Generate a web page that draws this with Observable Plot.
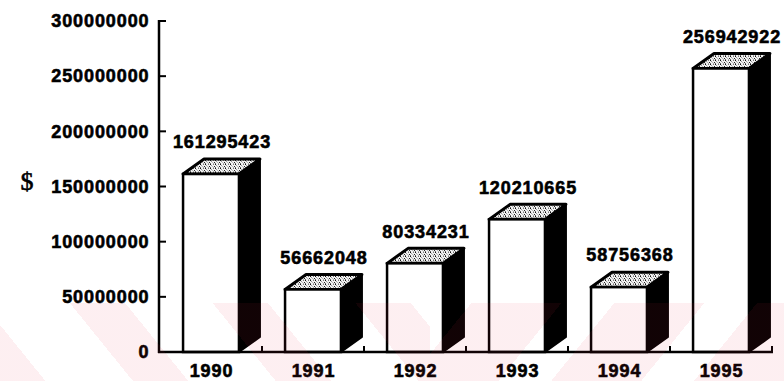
<!DOCTYPE html>
<html>
<head>
<meta charset="utf-8">
<script src="https://cdn.jsdelivr.net/npm/d3@7"></script>
<script src="https://cdn.jsdelivr.net/npm/@observablehq/plot@0.6"></script>
<style>
  html, body { margin: 0; padding: 0; background: #fff; }
  #chart { position: relative; width: 784px; height: 381px; overflow: hidden; }
  #chart svg { display: block; }
  #chart svg text { letter-spacing: 0.9px; stroke: #000; stroke-width: 0.6px; }
  #chart svg text.currency { letter-spacing: 0; stroke-width: 0.3px; }
  /* faint stamp across the bottom of the sheet */
  #stamp {
    position: absolute; left: 0; top: 303px; width: 784px; height: 78px; pointer-events: none;
    background:
      repeating-linear-gradient(51deg, rgba(235,40,70,0.075) 0 35.3px, transparent 35.3px 103.3px, rgba(235,40,70,0.075) 103.3px 111px) 0 0 / 430px 78px no-repeat,
      repeating-linear-gradient(-51deg, rgba(235,40,70,0.075) 0 70px, transparent 70px 111px) 430px 0 / 354px 78px no-repeat;
  }
</style>
</head>
<body>
<div id="chart"></div>
<script>
// Yearly totals in dollars
const years = ["1990", "1991", "1992", "1993", "1994", "1995"];
const amounts = [161295423, 56662048, 80334231, 120210665, 58756368, 256942922];
const yTicks = [0, 50000000, 100000000, 150000000, 200000000, 250000000, 300000000];

const data = years.map((year, i) => ({year, amount: amounts[i]}));

// Box geometry: front face width as a share of the band, and the extrusion offset
const FRONT = 0.548;
const DEPTH_X = 21;
const DEPTH_Y = 15;

// Draws each bar as a box (front face, speckled top, black side) plus the axis lines and inner ticks
function boxes(index, scales, values, dimensions) {
  const {x, y} = scales;
  const {width, marginLeft, marginRight} = dimensions;
  const bw = x.bandwidth ? x.bandwidth() : (width - marginLeft - marginRight) / years.length;
  const inset = bw * (1 - FRONT) / 2;
  const y0 = y(0);
  const xStart = marginLeft;
  const xEnd = width - marginRight;
  const g = d3.create("svg:g");

  // speckled fill for the box tops
  const defs = g.append("defs");
  const pat = defs.append("pattern")
    .attr("id", "stipple").attr("patternUnits", "userSpaceOnUse")
    .attr("width", 5).attr("height", 4);
  pat.append("rect").attr("width", 5).attr("height", 4).attr("fill", "#f2f2f2");
  const specks = [[0, 0, "#111"], [3, 0, "#777"], [1, 1, "#999"], [4, 2, "#222"], [2, 2, "#bbb"], [0, 3, "#666"], [3, 3, "#aaa"]];
  for (const [sx, sy, c] of specks) {
    pat.append("rect").attr("x", sx).attr("y", sy).attr("width", 1).attr("height", 1).attr("fill", c);
  }

  for (const d of data) {
    const xl = x(d.year) + inset;
    const xr = x(d.year) + bw - inset;
    const yt = y(d.amount);
    // side face
    g.append("path")
      .attr("d", `M${xr},${yt}L${xr + DEPTH_X},${yt - DEPTH_Y}L${xr + DEPTH_X},${y0 - DEPTH_Y}L${xr},${y0}Z`)
      .attr("fill", "#000").attr("stroke", "#000").attr("stroke-width", 2).attr("stroke-linejoin", "round");
    // top face
    g.append("path")
      .attr("d", `M${xl},${yt}L${xl + DEPTH_X},${yt - DEPTH_Y}L${xr + DEPTH_X},${yt - DEPTH_Y}L${xr},${yt}Z`)
      .attr("fill", "url(#stipple)").attr("stroke", "#000").attr("stroke-width", 3).attr("stroke-linejoin", "round");
    // front face
    g.append("rect")
      .attr("x", xl).attr("y", yt).attr("width", xr - xl).attr("height", y0 - yt)
      .attr("fill", "#fff").attr("stroke", "#000").attr("stroke-width", 2.5);
  }

  // value axis line with inward ticks
  g.append("line")
    .attr("x1", xStart).attr("x2", xStart)
    .attr("y1", y(yTicks[yTicks.length - 1]) - 1).attr("y2", y0 + 1)
    .attr("stroke", "#000").attr("stroke-width", 2.5);
  for (const t of yTicks) {
    g.append("line")
      .attr("x1", xStart).attr("x2", xStart + 7)
      .attr("y1", y(t)).attr("y2", y(t))
      .attr("stroke", "#000").attr("stroke-width", 2);
  }

  // baseline with ticks between years
  g.append("line")
    .attr("x1", xStart - 1).attr("x2", xEnd + 1)
    .attr("y1", y0).attr("y2", y0)
    .attr("stroke", "#000").attr("stroke-width", 2.5);
  for (const yr of years) {
    const bx = x(yr) + bw;
    g.append("line")
      .attr("x1", bx).attr("x2", bx)
      .attr("y1", y0).attr("y2", y0 - 6)
      .attr("stroke", "#000").attr("stroke-width", 2);
  }
  return g.node();
}

const chart = Plot.plot({
  width: 784,
  height: 381,
  marginLeft: 159,
  marginRight: 12,
  marginTop: 21,
  marginBottom: 29,
  style: {
    fontFamily: "'Liberation Sans', Arial, Helvetica, sans-serif",
    fontSize: "18px",
    fontWeight: "bold",
    color: "#000",
    background: "transparent",
    overflow: "visible"
  },
  x: {type: "band", domain: years, padding: 0, tickSize: 0, tickPadding: 12, label: null},
  y: {
    domain: [0, 300000000],
    ticks: yTicks,
    tickFormat: d => String(d),
    tickSize: 0,
    tickPadding: 10,
    label: null
  },
  marks: [
    boxes,
    Plot.text(data, {
      x: "year",
      y: "amount",
      text: d => String(d.amount),
      dx: DEPTH_X / 2,
      dy: -32,
      fontSize: 18,
      fontWeight: "bold",
      fill: "#000"
    }),
    Plot.text(["$"], {
      frameAnchor: "left",
      dx: -139,
      dy: -5,
      fontFamily: "'Liberation Serif', 'Times New Roman', serif",
      fontSize: 26,
      fontWeight: "normal",
      fill: "#000",
      className: "currency"
    })
  ]
});

const host = document.getElementById("chart");
host.appendChild(chart);
const stamp = document.createElement("div");
stamp.id = "stamp";
host.appendChild(stamp);
</script>
</body>
</html>
